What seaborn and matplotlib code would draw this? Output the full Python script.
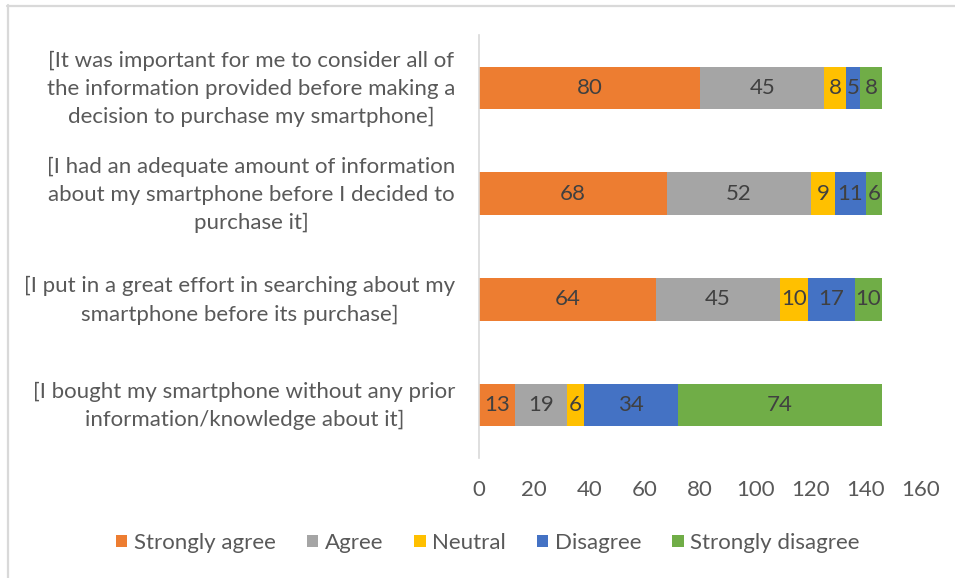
import numpy as np
import pandas as pd
import matplotlib
matplotlib.use("Agg")
import matplotlib.pyplot as plt
from matplotlib.patches import Patch
from matplotlib.lines import Line2D
from matplotlib.transforms import ScaledTranslation
import seaborn as sns

# Survey statements (top to bottom)
statements = [
    "[It was important for me to consider all of\nthe information provided before making a\ndecision to purchase my smartphone]",
    "[I had an adequate amount of information\nabout my smartphone before I decided to\npurchase it]",
    "[I put in a great effort in searching about my\nsmartphone before its purchase]",
    "[I bought my smartphone without any prior\ninformation/knowledge about it]",
]

responses = ["Strongly agree", "Agree", "Neutral", "Disagree", "Strongly disagree"]

strongly_agree = [80, 68, 64, 13]
agree = [45, 52, 45, 19]
neutral = [8, 9, 10, 6]
disagree = [5, 11, 17, 34]
strongly_disagree = [8, 6, 10, 74]

x_ticks = [0, 20, 40, 60, 80, 100, 120, 140, 160]

colors = ["#ED7D31", "#A5A5A5", "#FFC000", "#4472C4", "#70AD47"]

series = [strongly_agree, agree, neutral, disagree, strongly_disagree]
counts = pd.DataFrame(dict(zip(responses, series)), index=statements)
cumulative = counts.cumsum(axis=1)

sns.set_theme(style="white")
plt.rcParams["font.family"] = ["Lato", "DejaVu Sans"]

FS = 16

W, H = 955, 578
fig = plt.figure(figsize=(W / 100, H / 100), dpi=100)
ax = fig.add_axes([479 / W, 1 - 458 / H, (921 - 479) / W, (458 - 35) / H])

# Stacked bars: draw cumulative totals from the outermost segment inward
for resp, col in reversed(list(zip(responses, colors))):
    sns.barplot(x=cumulative[resp].values, y=statements, color=col,
                width=0.4, orient="h", ax=ax, linewidth=0, saturation=1)

# Segment value labels
for resp in responses:
    for i, stmt in enumerate(statements):
        v = counts.loc[stmt, resp]
        c = cumulative.loc[stmt, resp]
        ax.text(c - v / 2, i, f"{v}", ha="center", va="center",
                fontsize=FS, color="#404040")

ax.set_xlim(0, 160)
ax.set_xticks(x_ticks)
ax.set_xticklabels([str(t) for t in x_ticks])
ax.set_xlabel("")
ax.set_ylabel("")
ax.tick_params(axis="x", length=0, pad=16, labelsize=FS, labelcolor="#595959")
ax.tick_params(axis="y", length=0, pad=17, labelsize=FS, labelcolor="#595959")
lift = ScaledTranslation(0, 5 / 100, fig.dpi_scale_trans)
for tick in ax.yaxis.get_major_ticks():
    lab = tick.label1
    lab.set_multialignment("center")
    lab.set_linespacing(1.5)
    lab.set_transform(lab.get_transform() + lift)

for s in ["top", "right", "bottom"]:
    ax.spines[s].set_visible(False)
ax.spines["left"].set_color("#D9D9D9")
ax.spines["left"].set_linewidth(1.2)

handles = [Patch(facecolor=c, edgecolor="none", label=r) for r, c in zip(responses, colors)]
fig.legend(handles=handles, loc="center", bbox_to_anchor=(488 / W, 1 - 543 / H),
           ncol=5, frameon=False, fontsize=FS, labelcolor="#595959",
           handlelength=0.5, handleheight=0.5, handletextpad=0.3, columnspacing=1.4)

# Chart area outline
fig.add_artist(Line2D([7 / W, 1], [1 - 5.5 / H, 1 - 5.5 / H], transform=fig.transFigure,
                      color="#D9D9D9", linewidth=1.6))
fig.add_artist(Line2D([7.5 / W, 7.5 / W], [0, 1 - 5 / H], transform=fig.transFigure,
                      color="#D9D9D9", linewidth=1.6))

fig.savefig("out.png", dpi=100, facecolor="white")
